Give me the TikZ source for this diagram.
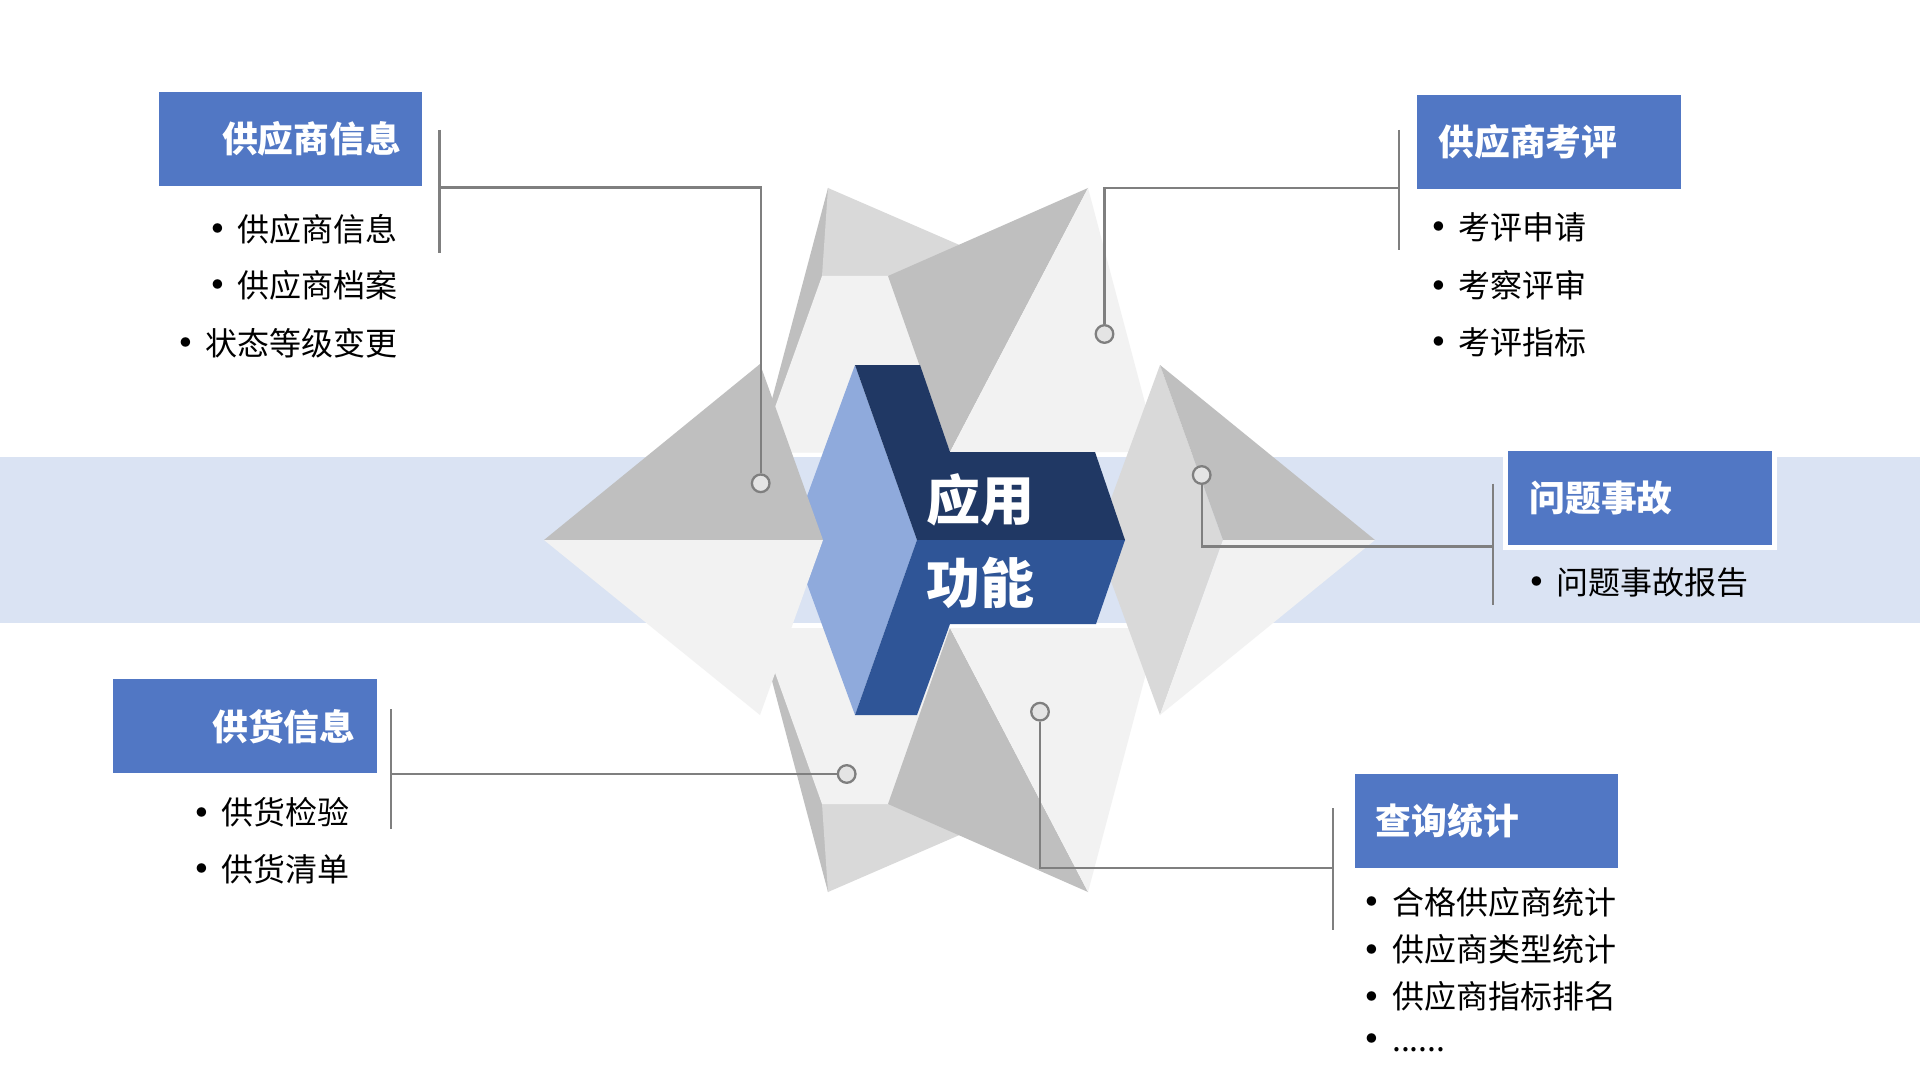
\documentclass[tikz,border=0pt]{standalone}
\usepackage{fontspec}
\setmainfont{Noto Sans CJK SC}

\definecolor{dk}{HTML}{BFBFBF}
\definecolor{md}{HTML}{D9D9D9}
\definecolor{lt}{HTML}{F2F2F2}
\definecolor{band}{HTML}{DAE3F3}
\definecolor{paleblue}{HTML}{8FAADC}
\definecolor{navy}{HTML}{203864}
\definecolor{midnavy}{HTML}{2F5597}
\definecolor{boxblue}{HTML}{5177C4}
\definecolor{linegray}{HTML}{7F7F7F}

\newcommand\itm{\llap{\makebox[0pt][c]{\raisebox{-0.13em}{\scalebox{1.4}{•}}}\hspace{10pt}}}

\begin{document}
\begin{tikzpicture}[x=0.5pt,y=-0.5pt,
	conn/.style={draw=linegray,line width=1.15pt},
	dot/.style={circle,draw=linegray,fill=md!70!white,line width=1.15pt,minimum size=8.8pt,inner sep=0pt},
	tbox/.style={fill=boxblue,draw=white,line width=2.75pt,minimum width=134.5pt,minimum height=49.75pt,inner xsep=12pt,inner ysep=0pt,text width=110.5pt,text=white,font=\fontsize{17.9pt}{20pt}\selectfont\bfseries},
	item/.style={inner sep=0pt,text=black,font=\fontsize{16pt}{18pt}\selectfont},
	core/.style={inner sep=0pt,text=white,font=\fontsize{27pt}{30pt}\selectfont\bfseries}]
	\useasboundingbox (0,0) rectangle (1920,1080);
	\fill[white] (0,0) rectangle (1920,1080);
	\fill[band] (0,457) rectangle (1920,623);
	
	% upper and lower folds
	\fill[dk] (828,188) -- (758,452) -- (900,452) -- cycle;
	\fill[md] (828,188) -- (1031,276) -- (822,276) -- cycle;
	\fill[lt] (822,276) -- (892,276) -- (954,452) -- (759,452) -- cycle;
	\fill[dk] (1088,188) -- (888,276) -- (950,452) -- cycle;
	\fill[lt] (1088,188) -- (1158,452) -- (950,452) -- cycle;
	\fill[dk] (828,892) -- (758,628) -- (900,628) -- cycle;
	\fill[md] (828,892) -- (1031,804) -- (822,804) -- cycle;
	\fill[lt] (822,804) -- (892,804) -- (954,628) -- (759,628) -- cycle;
	\fill[dk] (1088,892) -- (888,804) -- (950,628) -- cycle;
	\fill[lt] (1088,892) -- (1158,628) -- (950,628) -- cycle;
	
	% right arrowhead
	\fill[md] (1160,365) -- (1223,540) -- (1160,715) -- (1096,540) -- cycle;
	\fill[dk] (1160,365) -- (1375,540) -- (1223,540) -- cycle;
	\fill[lt] (1223,540) -- (1375,540) -- (1160,715) -- cycle;
	
	% centre chevron
	\fill[paleblue] (855,365) -- (917,540) -- (855,715) -- (791,540) -- cycle;
	\fill[navy] (855,365) -- (920,365) -- (950,452) -- (1095,452) -- (1125,540) -- (917,540) -- cycle;
	\fill[midnavy] (917,540) -- (1125,540) -- (1096,624) -- (950,624) -- (917,715) -- (855,715) -- cycle;
	
	% left arrowhead
	\fill[dk] (544,540) -- (760,364) -- (823,540) -- cycle;
	\fill[lt] (544,540) -- (760,715) -- (823,540) -- cycle;
	
	\node[core] (yy) at (980,500) {应用};
	\node[core] (gn) at (980,583) {功能};
	
	% title boxes
	\node[tbox,align=right] (gysxx) at (290.5,139) {供应商信息};
	\node[tbox,align=left] (gyskp) at (1549,142) {供应商考评};
	\node[tbox,align=left] (wtsg) at (1640,497.5) {问题事故};
	\node[tbox,align=right] (ghxx) at (245,726.3) {供货信息};
	\node[tbox,align=left] (cxtj) at (1486.3,821.2) {查询统计};
	
	% items
	\node[item,anchor=east] (i11) at (398.3,229.5) {\itm 供应商信息};
	\node[item,anchor=east] (i12) at (398.3,286) {\itm 供应商档案};
	\node[item,anchor=east] (i13) at (398.3,343.5) {\itm 状态等级变更};
	\node[item,anchor=west] (i21) at (1458.3,228.3) {\itm 考评申请};
	\node[item,anchor=west] (i22) at (1458.3,286.5) {\itm 考察评审};
	\node[item,anchor=west] (i23) at (1458.3,343.3) {\itm 考评指标};
	\node[item,anchor=west] (i31) at (1556,583.3) {\itm 问题事故报告};
	\node[item,anchor=east] (i41) at (350,813.5) {\itm 供货检验};
	\node[item,anchor=east] (i42) at (350,870) {\itm 供货清单};
	\node[item,anchor=west] (i51) at (1391.7,903) {\itm 合格供应商统计};
	\node[item,anchor=west] (i52) at (1391.7,950.5) {\itm 供应商类型统计};
	\node[item,anchor=west] (i53) at (1391.7,997.5) {\itm 供应商指标排名};
	\node[item,anchor=west] (i54) at (1391.7,1045) {\itm ......};
	
	% brackets and leaders
	\coordinate (v1a) at (439.5,130);
	\coordinate (v1b) at (439.5,253);
	\coordinate (j1) at (439.5,187.5);
	\coordinate (v2a) at (1399.3,130);
	\coordinate (v2b) at (1399.3,250);
	\coordinate (j2) at (1399.3,188);
	\coordinate (v3a) at (1493,483.5);
	\coordinate (v3b) at (1493,605);
	\coordinate (j3) at (1493,546.5);
	\coordinate (v4a) at (391,709);
	\coordinate (v4b) at (391,829);
	\coordinate (j4) at (391,774);
	\coordinate (v5a) at (1333.3,808);
	\coordinate (v5b) at (1333.3,930);
	\coordinate (j5) at (1333.3,868.3);
	
	\node[dot] (c1) at (760.7,483.3) {};
	\node[dot] (c2) at (1104.5,334) {};
	\node[dot] (c3) at (1201.7,475) {};
	\node[dot] (c4) at (846.7,774) {};
	\node[dot] (c5) at (1040,711.7) {};
	
	\draw[conn] (v1a) -- (v1b);
	\draw[conn] (v2a) -- (v2b);
	\draw[conn] (v3a) -- (v3b);
	\draw[conn] (v4a) -- (v4b);
	\draw[conn] (v5a) -- (v5b);
	\draw[conn] (j1) -| (c1);
	\draw[conn] (c2) |- (j2);
	\draw[conn] (c3) |- (j3);
	\draw[conn] (j4) -- (c4);
	\draw[conn] (c5) |- (j5);
\end{tikzpicture}
\end{document}
